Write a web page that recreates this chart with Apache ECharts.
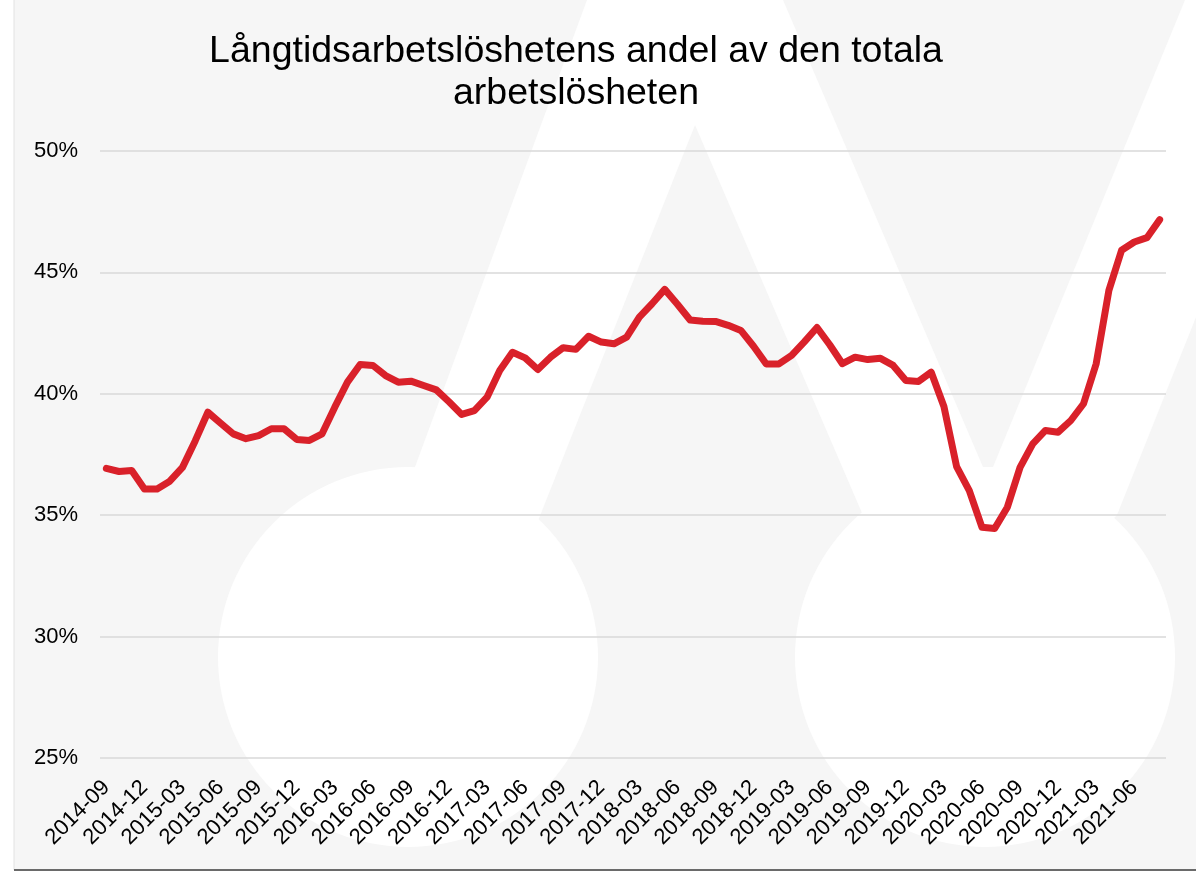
<!DOCTYPE html>
<html>
<head>
<meta charset="utf-8">
<script src="https://cdn.jsdelivr.net/npm/echarts@6/dist/echarts.min.js"></script>
<style>
html,body{margin:0;padding:0;background:#ffffff;}
#chart{width:1196px;height:872px;}
</style>
</head>
<body>
<div id="chart"></div>
<script>
const titleText = 'Långtidsarbetslöshetens andel av den totala\narbetslösheten';

const months = [
'2014-09','2014-10','2014-11','2014-12','2015-01','2015-02','2015-03','2015-04','2015-05','2015-06',
'2015-07','2015-08','2015-09','2015-10','2015-11','2015-12','2016-01','2016-02','2016-03','2016-04',
'2016-05','2016-06','2016-07','2016-08','2016-09','2016-10','2016-11','2016-12','2017-01','2017-02',
'2017-03','2017-04','2017-05','2017-06','2017-07','2017-08','2017-09','2017-10','2017-11','2017-12',
'2018-01','2018-02','2018-03','2018-04','2018-05','2018-06','2018-07','2018-08','2018-09','2018-10',
'2018-11','2018-12','2019-01','2019-02','2019-03','2019-04','2019-05','2019-06','2019-07','2019-08',
'2019-09','2019-10','2019-11','2019-12','2020-01','2020-02','2020-03','2020-04','2020-05','2020-06',
'2020-07','2020-08','2020-09','2020-10','2020-11','2020-12','2021-01','2021-02','2021-03','2021-04',
'2021-05','2021-06','2021-07','2021-08'
];

const shareLongTerm = [
36.93, 36.80, 36.84, 36.08, 36.08, 36.40, 36.97, 38.06, 39.24, 38.79,
38.35, 38.15, 38.28, 38.56, 38.56, 38.12, 38.08, 38.35, 39.45, 40.48,
41.21, 41.17, 40.75, 40.48, 40.52, 40.34, 40.16, 39.67, 39.15, 39.31,
39.86, 40.96, 41.71, 41.48, 41.00, 41.51, 41.90, 41.83, 42.37, 42.13,
42.06, 42.33, 43.16, 43.71, 44.30, 43.69, 43.04, 42.99, 42.98, 42.82,
42.61, 41.96, 41.23, 41.23, 41.58, 42.14, 42.73, 42.02, 41.24, 41.51,
41.41, 41.46, 41.17, 40.55, 40.51, 40.89, 39.48, 37.00, 36.01, 34.50,
34.45, 35.33, 36.97, 37.94, 38.49, 38.42, 38.90, 39.59, 41.24, 44.26,
45.91, 46.25, 46.43, 47.17
];

const yTicks = [25, 30, 35, 40, 45, 50];

const FONT = "'Liberation Sans', Arial, sans-serif";
const BG = '#f6f6f6';

const chart = echarts.init(document.getElementById('chart'), null, {renderer: 'canvas'});

const decor = [
  {type: 'rect', shape: {x: 14, y: 0, width: 1182, height: 869}, style: {fill: BG}, z: -20, silent: true},
  {type: 'line', shape: {x1: 14, y1: 0, x2: 14, y2: 870}, style: {stroke: '#e2e2e2', lineWidth: 1}, z: -19, silent: true},
  {type: 'polygon', shape: {points: [[587,0],[1196,0],[1196,317],[1117,515],[985,657],[408,657],[415,467]]}, style: {fill: '#ffffff'}, z: -18, silent: true},
  {type: 'polygon', shape: {points: [[695,125],[484,657],[924,657]]}, style: {fill: BG}, z: -17, silent: true},
  {type: 'polygon', shape: {points: [[783,0],[1185,0],[993,467],[983,467]]}, style: {fill: BG}, z: -17, silent: true},
  {type: 'circle', shape: {cx: 408, cy: 657, r: 190}, style: {fill: '#ffffff'}, z: -16, silent: true},
  {type: 'circle', shape: {cx: 985, cy: 657, r: 190}, style: {fill: '#ffffff'}, z: -16, silent: true},
  {type: 'line', shape: {x1: 14, y1: 870, x2: 1196, y2: 870}, style: {stroke: '#6a6a6a', lineWidth: 2}, z: -15, silent: true}
];

chart.setOption({
  animation: false,
  backgroundColor: '#ffffff',
  textStyle: {fontFamily: FONT},
  title: {
    text: titleText,
    left: 571,
    top: 26,
    textAlign: 'center',
    textStyle: {fontFamily: FONT, fontSize: 37.5, fontWeight: 'normal', color: '#000000', lineHeight: 42}
  },
  graphic: {elements: decor},
  grid: {left: 100, right: 30, top: 151, bottom: 114, containLabel: false},
  xAxis: {
    type: 'category',
    data: months,
    boundaryGap: true,
    axisLine: {show: false},
    axisTick: {show: false},
    splitLine: {show: false},
    axisLabel: {
      interval: 2,
      rotate: 45,
      margin: 26,
      color: '#000000',
      fontSize: 22,
      fontFamily: FONT
    }
  },
  yAxis: {
    type: 'value',
    min: yTicks[0],
    max: yTicks[yTicks.length - 1],
    interval: 5,
    axisLine: {show: false},
    axisTick: {show: false},
    splitLine: {show: true, lineStyle: {color: '#d9d9d9', width: 1.5}},
    axisLabel: {
      formatter: '{value}%',
      margin: 22,
      color: '#000000',
      fontSize: 22,
      fontFamily: FONT
    }
  },
  series: [{
    type: 'line',
    data: shareLongTerm,
    symbol: 'none',
    smooth: false,
    lineStyle: {color: '#d9212a', width: 7, cap: 'round', join: 'round'},
    z: 5
  }]
});
</script>
</body>
</html>
